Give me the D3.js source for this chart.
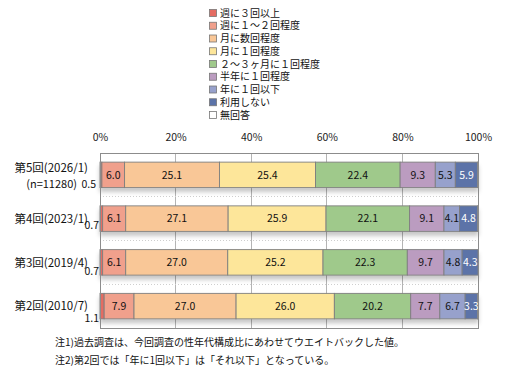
<!DOCTYPE html>
<html><head><meta charset="utf-8">
<script src="https://cdn.jsdelivr.net/npm/d3@7"></script>
<style>body{margin:0;background:#fff}svg{display:block}</style>
</head><body><svg id="c" width="506" height="378"></svg>
<script>
// ---- data ----
const categories = ["第5回(2026/1)", "第4回(2023/1)", "第3回(2019/4)", "第2回(2010/7)"];
const subLabels = ["(n=11280)", "", "", ""];
const seriesNames = ["週に３回以上", "週に１～２回程度", "月に数回程度", "月に１回程度", "２～３ヶ月に１回程度", "半年に１回程度", "年に１回以下", "利用しない", "無回答"];
const weekly3 = [0.5, 0.7, 0.7, 1.1];
const weekly12 = [6.0, 6.1, 6.1, 7.9];
const monthlySeveral = [25.1, 27.1, 27.0, 27.0];
const monthlyOnce = [25.4, 25.9, 25.2, 26.0];
const bimonthly = [22.4, 22.1, 22.3, 20.2];
const halfYear = [9.3, 9.1, 9.7, 7.7];
const yearly = [5.3, 4.1, 4.8, 6.7];
const notUsed = [5.9, 4.8, 4.3, 3.3];
const noAnswer = [0.1, 0.1, 0.0, 0.1];
const tickValues = [0, 20, 40, 60, 80, 100];
const tickLabels = ["0%", "20%", "40%", "60%", "80%", "100%"];
const notes = ["注1)過去調査は、今回調査の性年代構成比にあわせてウエイトバックした値。", "注2)第2回では「年に1回以下」は「それ以下」となっている。"];

const series = [weekly3, weekly12, monthlySeveral, monthlyOnce, bimonthly, halfYear, yearly, notUsed, noAnswer];
const colors = ["#e46c62", "#f0a08c", "#f9c797", "#fde69a", "#9fc98b", "#bb9cc0", "#97a1cc", "#5b73a8", "#ffffff"];

// ---- layout ----
const FONT = "'Noto Sans CJK JP','Noto Sans',sans-serif";
const svg = d3.select("#c").style("font-family", FONT);
const x = d3.scaleLinear().domain([0, 100]).range([100, 478]);
const y = d3.scaleBand().domain(categories).range([153, 328]).paddingInner(0.417).paddingOuter(0.2085);

const defs = svg.append("defs");
const f = defs.append("filter").attr("id", "sh").attr("x", "-5%").attr("y", "-20%").attr("width", "110%").attr("height", "160%");
f.append("feDropShadow").attr("dx", 0).attr("dy", 4).attr("stdDeviation", 2.2).attr("flood-color", "#000").attr("flood-opacity", 0.22);

// gridlines
svg.append("g").selectAll("line").data(tickValues.slice(1, -1)).join("line")
  .attr("x1", d => x(d)).attr("x2", d => x(d)).attr("y1", 153).attr("y2", 328)
  .attr("stroke", "#b4b4b4").attr("stroke-width", 1).attr("shape-rendering", "crispEdges");
// dotted band separators
const seps = categories.slice(1).map(c => y(c) - y.step() * y.paddingInner() / 2);
svg.append("g").selectAll("line").data(seps).join("line")
  .attr("x1", 100).attr("x2", 478).attr("y1", d => d).attr("y2", d => d)
  .attr("stroke", "#cfcfcf").attr("stroke-dasharray", "1,2").attr("shape-rendering", "crispEdges");

// tick labels (top)
const axis = d3.axisTop(x).tickValues(tickValues).tickFormat((d, i) => tickLabels[i]).tickSize(0).tickPadding(0);
const ax = svg.append("g").attr("transform", "translate(0,141)").call(axis);
ax.select(".domain").remove();
ax.selectAll("text").attr("font-size", "10.5px").attr("fill", "#222").style("font-family", FONT);

// stacked data
const rows = categories.map((c, i) => {
  let acc = 0;
  return { cat: c, i, segs: series.map((s, k) => { const v = s[i]; const seg = { k, v, x0: acc, x1: acc + v }; acc += v; return seg; }) };
});

const rowG = svg.append("g").selectAll("g").data(rows).join("g");
rowG.append("g").attr("filter", "url(#sh)").selectAll("rect").data(d => d.segs.filter(s => s.v > 0)).join("rect")
  .attr("x", s => x(s.x0)).attr("width", s => Math.max(0, Math.min(x(s.x1), 478) - x(s.x0)))
  .attr("y", function () { return y(d3.select(this.parentNode).datum().cat); })
  .attr("height", y.bandwidth())
  .attr("fill", s => colors[s.k]).attr("stroke", "#7f7f7f").attr("stroke-width", 0.9);

// in-bar labels
rowG.selectAll("text.v").data(d => d.segs.filter(s => s.k > 0 && s.k < 8).map(s => ({ ...s, cat: d.cat }))).join("text")
  .attr("class", "v")
  .attr("x", s => x((s.x0 + s.x1) / 2)).attr("y", s => y(s.cat) + y.bandwidth() / 2)
  .attr("dy", "0.36em").attr("text-anchor", "middle").attr("font-size", "10.5px")
  .attr("fill", s => s.k === 7 ? "#fff" : "#111")
  .text(s => s.v.toFixed(1));

// small outside labels for first series
rowG.append("text")
  .attr("x", d => d.i === 0 ? 96 : 99)
  .attr("y", d => y(d.cat) + y.bandwidth() + (d.i === 0 ? 0 : (d.i === 2 ? 0 : (d.i === 1 ? -2.5 : 3))))
  .attr("text-anchor", "end").attr("font-size", "10.5px").attr("fill", "#111")
  .text(d => weekly3[d.i].toFixed(1));

// category labels
rowG.append("text")
  .attr("x", 88).attr("y", d => y(d.cat) + y.bandwidth() / 2 + (subLabels[d.i] ? -7 : 0))
  .attr("dy", "0.36em").attr("text-anchor", "end").attr("font-size", "11.5px").attr("fill", "#111")
  .text(d => d.cat);
rowG.filter(d => subLabels[d.i]).append("text")
  .attr("x", 77).attr("y", d => y(d.cat) + y.bandwidth())
  .attr("text-anchor", "end").attr("font-size", "11px").attr("fill", "#111")
  .text(d => subLabels[d.i]);

// plot border
svg.append("rect").attr("x", 100).attr("y", 153).attr("width", 378).attr("height", 175)
  .attr("fill", "none").attr("stroke", "#8c8c8c").attr("stroke-width", 1).attr("shape-rendering", "crispEdges");

// legend
const lg = svg.append("g").selectAll("g").data(seriesNames).join("g")
  .attr("transform", (d, i) => `translate(209,${13 + i * 12.75})`);
lg.append("rect").attr("x", 0.5).attr("y", -3.5).attr("width", 7).attr("height", 7)
  .attr("fill", (d, i) => colors[i]).attr("stroke", "#777").attr("stroke-width", 0.8);
lg.append("text").attr("x", 11).attr("dy", "0.36em").attr("font-size", "10px").attr("fill", "#111").text(d => d);

// notes
svg.append("g").selectAll("text").data(notes).join("text")
  .attr("x", 55).attr("y", (d, i) => 346 + i * 18)
  .attr("font-size", "10px").attr("fill", "#111").text(d => d);
</script></body></html>
